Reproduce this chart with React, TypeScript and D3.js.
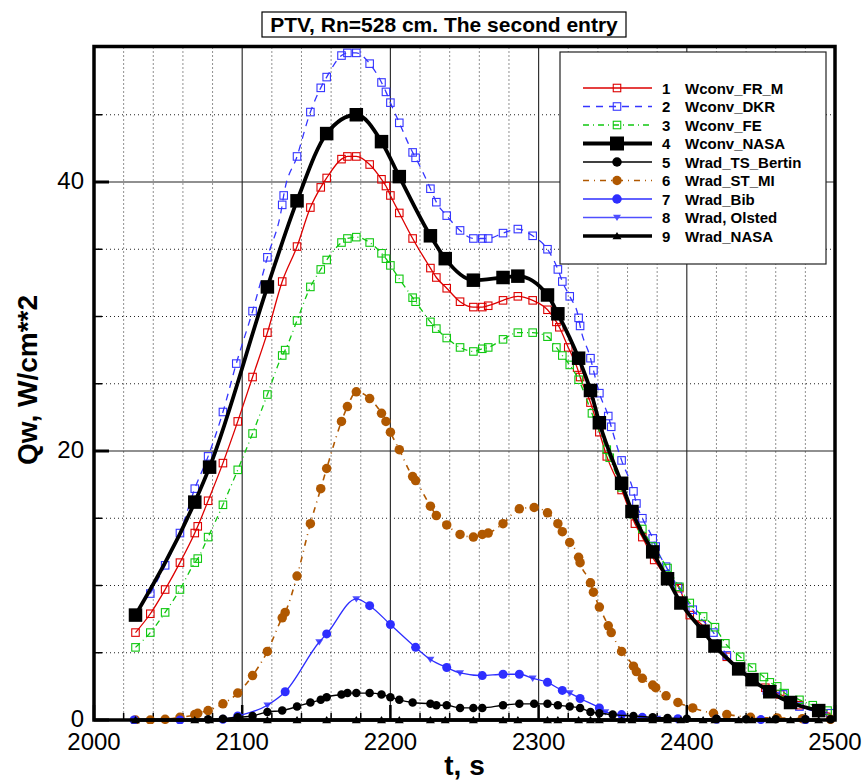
import React from "react";
import * as d3 from "d3";

type Pt = [number, number];

const W = 862;
const H = 780;

const titleText = "PTV, Rn=528 cm. The second entry";
const xLabel = "t, s";
const yLabel = "Qw, W/cm**2";
const xTicks = [2000, 2100, 2200, 2300, 2400, 2500];
const yTicks = [0, 20, 40];

const wconvFRM: Pt[] = [
  [2028, 6.5], [2038, 7.9], [2048, 9.7], [2058, 11.7], [2068, 13.9], [2070, 14.4], [2077, 16.3],
  [2087, 19.1], [2097, 22.2], [2107, 25.5], [2117, 28.8], [2127, 32.6], [2137, 35.2], [2146, 38.1],
  [2153, 39.6], [2157, 40.3], [2167, 41.7], [2171, 41.9], [2177, 41.9], [2186, 41.3], [2194, 40.2],
  [2197, 39.7], [2200, 39.0], [2206, 37.7], [2215, 35.8], [2227, 33.6], [2231, 32.9], [2238, 32.1],
  [2247, 31.1], [2256, 30.7], [2262, 30.7], [2266, 30.8], [2276, 31.2], [2286, 31.5], [2296, 31.2],
  [2306, 30.5], [2312, 29.6], [2314, 29.2], [2320, 27.7], [2326, 26.2], [2328, 25.5], [2335, 23.6],
  [2341, 21.4], [2346, 19.6], [2356, 17.1], [2365, 14.6], [2370, 13.6], [2378, 11.9], [2387, 10.6],
  [2395, 9.8], [2402, 7.8], [2410, 7.1], [2418, 5.6], [2427, 4.7], [2436, 3.7], [2444, 3.0],
  [2453, 2.4], [2463, 1.9], [2476, 1.1], [2488, 0.7], [2497, 0.5],
];

const wconvDKR: Pt[] = [
  [2038, 9.4], [2048, 11.5], [2058, 13.9], [2068, 17.2], [2077, 19.6], [2087, 22.9], [2096, 26.5],
  [2107, 30.4], [2117, 34.4], [2127, 38.3], [2128, 39.0], [2137, 41.9], [2146, 45.2], [2153, 47.0],
  [2157, 47.8], [2167, 49.4], [2171, 49.6], [2177, 49.6], [2186, 48.8], [2194, 47.4], [2197, 46.7],
  [2200, 45.9], [2206, 44.4], [2215, 42.2], [2217, 41.8], [2227, 39.5], [2231, 38.5], [2238, 37.5],
  [2247, 36.4], [2256, 35.8], [2262, 35.8], [2266, 35.8], [2276, 36.2], [2286, 36.5], [2296, 36.0],
  [2306, 35.0], [2313, 33.5], [2316, 32.6], [2321, 31.5], [2327, 29.9], [2328, 29.3], [2335, 26.9],
  [2337, 26.0], [2341, 24.3], [2347, 22.6], [2349, 21.8], [2356, 19.3], [2364, 17.0], [2366, 16.1],
  [2370, 15.0], [2377, 13.5], [2379, 12.9], [2386, 11.4], [2394, 9.9], [2404, 8.2], [2418, 6.5],
  [2427, 4.8], [2444, 3.1], [2454, 2.2], [2465, 1.9], [2476, 1.0], [2497, 0.5],
];

const wconvFE: Pt[] = [
  [2028, 5.4], [2038, 6.5], [2048, 8.0], [2058, 9.7], [2068, 11.7], [2070, 12.0], [2077, 13.6],
  [2087, 16.0], [2097, 18.6], [2107, 21.3], [2117, 24.2], [2127, 27.1], [2129, 27.5], [2137, 29.7],
  [2146, 32.2], [2153, 33.5], [2157, 34.2], [2167, 35.5], [2171, 35.8], [2177, 35.9], [2186, 35.5],
  [2194, 34.7], [2197, 34.3], [2200, 33.8], [2206, 32.8], [2215, 31.4], [2217, 31.1], [2227, 29.6],
  [2231, 29.1], [2238, 28.4], [2247, 27.7], [2256, 27.4], [2262, 27.6], [2266, 27.7], [2276, 28.3],
  [2286, 28.8], [2296, 28.8], [2306, 28.5], [2312, 27.7], [2316, 27.1], [2321, 26.4], [2327, 25.3],
  [2336, 22.8], [2346, 20.1], [2348, 19.5], [2356, 17.3], [2364, 15.3], [2370, 14.2], [2377, 12.9],
  [2387, 11.3], [2395, 9.9], [2402, 8.7], [2411, 7.7], [2419, 6.9], [2426, 5.7], [2436, 4.7],
  [2444, 3.9], [2452, 3.2], [2456, 2.8], [2461, 2.5], [2466, 2.0], [2476, 1.5], [2485, 1.1],
  [2495, 0.7],
];

const wconvNASA: Pt[] = [
  [2028, 7.8], [2068, 16.2], [2078, 18.8], [2117, 32.2], [2137, 38.6], [2157, 43.6], [2177, 45.0],
  [2194, 43.0], [2206, 40.4], [2227, 36.0], [2237, 34.3], [2256, 32.7], [2276, 32.9], [2286, 33.0],
  [2306, 31.6], [2313, 30.2], [2327, 26.9], [2335, 24.5], [2341, 22.1], [2356, 17.6], [2363, 15.5],
  [2377, 12.5], [2387, 10.5], [2396, 8.7], [2411, 6.6], [2419, 5.5], [2435, 3.8], [2444, 3.0],
  [2456, 2.1], [2470, 1.3], [2489, 0.7],
];

const wradTSBertin: Pt[] = [
  [2077, 0.05], [2087, 0.1], [2097, 0.2], [2107, 0.3], [2117, 0.6], [2127, 0.7], [2137, 1.0],
  [2146, 1.3], [2153, 1.5], [2157, 1.7], [2167, 1.9], [2171, 2.0], [2177, 2.0], [2186, 2.0],
  [2194, 1.9], [2200, 1.7], [2206, 1.5], [2215, 1.3], [2227, 1.2], [2231, 1.1], [2238, 1.1],
  [2247, 0.9], [2256, 0.9], [2262, 0.9], [2276, 1.1], [2287, 1.2], [2297, 1.2], [2306, 1.2],
  [2313, 1.1], [2321, 1.0], [2328, 0.9], [2335, 0.6], [2341, 0.5], [2350, 0.4], [2364, 0.3],
  [2377, 0.2], [2387, 0.15], [2400, 0.1], [2420, 0.1], [2440, 0.05], [2460, 0.05], [2480, 0.05],
  [2497, 0.05],
];

const wradSTMI: Pt[] = [
  [2028, 0], [2038, 0], [2048, 0.05], [2058, 0.2], [2068, 0.4], [2070, 0.5], [2077, 0.7],
  [2087, 1.2], [2097, 2.0], [2107, 3.3], [2117, 5.1], [2127, 7.6], [2129, 8.0], [2137, 10.7],
  [2146, 14.6], [2153, 17.2], [2157, 18.7], [2167, 22.2], [2171, 23.3], [2177, 24.4], [2186, 23.9],
  [2194, 22.8], [2197, 22.2], [2200, 21.4], [2206, 20.1], [2215, 18.1], [2217, 17.8], [2227, 15.9],
  [2231, 15.2], [2238, 14.5], [2247, 13.8], [2256, 13.6], [2262, 13.8], [2266, 13.9], [2276, 14.6],
  [2287, 15.7], [2297, 15.8], [2306, 15.4], [2313, 14.6], [2316, 14.0], [2321, 13.2], [2327, 12.1],
  [2328, 11.7], [2335, 10.2], [2337, 9.5], [2341, 8.4], [2347, 7.0], [2349, 6.5], [2356, 5.1],
  [2364, 4.0], [2366, 3.6], [2370, 3.1], [2377, 2.6], [2379, 2.4], [2386, 1.8], [2394, 1.3],
  [2404, 0.9], [2418, 0.5], [2427, 0.4], [2443, 0.2], [2461, 0.15], [2478, 0.1], [2497, 0.05],
];

const wradBib: Pt[] = [
  [2027, 0], [2058, 0], [2087, 0.05], [2097, 0.3], [2129, 2.1], [2157, 6.4], [2186, 8.5],
  [2200, 7.1], [2217, 5.4], [2238, 3.9], [2262, 3.3], [2276, 3.4], [2287, 3.4], [2306, 2.8],
  [2316, 2.2], [2328, 1.6], [2341, 0.9], [2356, 0.4], [2370, 0.2], [2394, 0.1], [2420, 0.05],
  [2450, 0.03], [2480, 0.02],
];

const wradOlsted: Pt[] = [
  [2117, 1.1], [2152, 5.8], [2177, 9.0], [2227, 4.5], [2247, 3.5], [2296, 3.1],
  [2321, 2.0], [2345, 0.6], [2380, 0.1],
];

const wradNASA: Pt[] = [
  [2028, 0], [2068, 0], [2078, 0], [2117, 0], [2137, 0], [2157, 0], [2177, 0], [2194, 0],
  [2206, 0], [2227, 0], [2237, 0], [2256, 0], [2276, 0], [2286, 0], [2306, 0], [2313, 0],
  [2327, 0], [2335, 0], [2341, 0], [2356, 0], [2363, 0], [2377, 0], [2387, 0], [2396, 0],
  [2411, 0], [2419, 0], [2435, 0], [2444, 0], [2456, 0], [2470, 0], [2489, 0],
];

type Marker = "osquare" | "fsquare" | "circle" | "tridown" | "triup";
interface Series {
  id: number;
  name: string;
  data: Pt[];
  color: string;
  width: number;
  dash?: string;
  marker: Marker;
  size: number;
  lineData?: Pt[] | null;
}

// Bib and Olsted share one blue curve through both sets of points
const blueCurve: Pt[] = [...wradBib, ...wradOlsted].sort((a, b) => a[0] - b[0]);

const series: Series[] = [
  { id: 1, name: "Wconv_FR_M", data: wconvFRM, color: "#dd0000", width: 1.3, marker: "osquare", size: 7.5 },
  { id: 2, name: "Wconv_DKR", data: wconvDKR, color: "#3535ff", width: 1.3, dash: "7,6", marker: "osquare", size: 7.5 },
  { id: 3, name: "Wconv_FE", data: wconvFE, color: "#10c810", width: 1.3, dash: "6,4,1,4", marker: "osquare", size: 7.5 },
  { id: 4, name: "Wconv_NASA", data: wconvNASA, color: "#000000", width: 3.8, marker: "fsquare", size: 13.5 },
  { id: 5, name: "Wrad_TS_Bertin", data: wradTSBertin, color: "#000000", width: 1.4, marker: "circle", size: 8.5 },
  { id: 6, name: "Wrad_ST_MI", data: wradSTMI, color: "#b05800", width: 1.6, dash: "6,5,1,5", marker: "circle", size: 9.5 },
  { id: 7, name: "Wrad_Bib", data: wradBib, color: "#2e2eff", width: 1.3, marker: "circle", size: 9, lineData: blueCurve },
  { id: 8, name: "Wrad, Olsted", data: wradOlsted, color: "#4f4fff", width: 1.3, marker: "tridown", size: 8, lineData: null },
  { id: 9, name: "Wrad_NASA", data: wradNASA, color: "#000000", width: 3.5, marker: "triup", size: 9 },
];

const drawOrder = [1, 2, 3, 6, 8, 7, 5, 9, 4];

const X0 = 94, X1 = 835, Y0 = 720, Y1 = 47.5;

function MarkerShape({ m, x, y, size, color }: { m: Marker; x: number; y: number; size: number; color: string }) {
  const h = size / 2;
  if (m === "osquare")
    return <rect x={x - h} y={y - h} width={size} height={size} fill="none" stroke={color} strokeWidth={1.1} />;
  if (m === "fsquare") return <rect x={x - h} y={y - h} width={size} height={size} fill={color} />;
  if (m === "circle") return <circle cx={x} cy={y} r={h} fill={color} />;
  if (m === "tridown")
    return <path d={`M${x - h},${y - h * 0.7}L${x + h},${y - h * 0.7}L${x},${y + h * 0.9}Z`} fill={color} />;
  return <path d={`M${x - h},${y + h * 0.7}L${x + h},${y + h * 0.7}L${x},${y - h * 0.9}Z`} fill={color} />;
}

export default function App() {
  const x = d3.scaleLinear().domain([2000, 2500]).range([X0, X1]);
  const y = d3.scaleLinear().domain([0, 50]).range([Y0, Y1]);
  const line = d3
    .line<Pt>()
    .x((d) => x(d[0]))
    .y((d) => y(d[1]))
    .curve(d3.curveMonotoneX);

  const minorX = d3.range(2020, 2500, 20).filter((v) => v % 100 !== 0);
  const minorY = d3.range(5, 50, 5).filter((v) => v % 20 !== 0);
  const majorXGrid = [2100, 2200, 2300, 2400];
  const majorYGrid = [20, 40];

  const lgX = 560, lgY = 52, lgW = 266, lgH = 212;

  return (
    <svg
      width={W}
      height={H}
      style={{ position: "absolute", left: 0, top: 0, background: "#fff" }}
      fontFamily="'Liberation Sans', Arial, sans-serif"
    >
      <defs>
        <clipPath id="plotclip">
          <rect x={X0} y={Y1 - 2} width={X1 - X0} height={Y0 - Y1 + 6} />
        </clipPath>
      </defs>
      <rect x={0} y={0} width={W} height={H} fill="#fff" />

      {/* grid */}
      {minorX.map((v) => (
        <line key={"gx" + v} x1={x(v)} x2={x(v)} y1={Y1} y2={Y0} stroke="#222" strokeWidth={1} strokeDasharray="1,3" />
      ))}
      {minorY.map((v) => (
        <line key={"gy" + v} x1={X0} x2={X1} y1={y(v)} y2={y(v)} stroke="#222" strokeWidth={1} strokeDasharray="1,3" />
      ))}
      {majorXGrid.map((v) => (
        <line key={"GX" + v} x1={x(v)} x2={x(v)} y1={Y1} y2={Y0} stroke="#333" strokeWidth={1.2} />
      ))}
      {majorYGrid.map((v) => (
        <line key={"GY" + v} x1={X0} x2={X1} y1={y(v)} y2={y(v)} stroke="#222" strokeWidth={1.2} />
      ))}

      {/* ticks */}
      {minorX.map((v) => (
        <line key={"tx" + v} x1={x(v)} x2={x(v)} y1={Y0} y2={Y0 - 7} stroke="#000" strokeWidth={1.5} />
      ))}
      {xTicks.map((v) => (
        <line key={"TX" + v} x1={x(v)} x2={x(v)} y1={Y0} y2={Y0 - 15} stroke="#000" strokeWidth={2.5} />
      ))}
      {minorY.map((v) => (
        <line key={"ty" + v} x1={X0} x2={X0 + 8} y1={y(v)} y2={y(v)} stroke="#000" strokeWidth={1.5} />
      ))}
      {yTicks.map((v) => (
        <line key={"TY" + v} x1={X0} x2={X0 + 15} y1={y(v)} y2={y(v)} stroke="#000" strokeWidth={3} />
      ))}

      {/* series */}
      <g clipPath="url(#plotclip)">
        {drawOrder.map((id) => {
          const s = series.find((q) => q.id === id)!;
          const ld = s.lineData === undefined ? s.data : s.lineData;
          return (
            <g key={"s" + id}>
              {ld && (
                <path d={line(ld) || ""} fill="none" stroke={s.color} strokeWidth={s.width} strokeDasharray={s.dash} />
              )}
              {s.data.map((d, i) => (
                <MarkerShape key={i} m={s.marker} x={x(d[0])} y={y(d[1])} size={s.size} color={s.color} />
              ))}
            </g>
          );
        })}
      </g>

      {/* frame */}
      <rect x={X0} y={Y1 - 1} width={X1 - X0} height={Y0 - Y1 + 1} fill="none" stroke="#000" strokeWidth={3.5} />

      {/* legend */}
      <rect x={lgX} y={lgY} width={lgW} height={lgH} fill="#fff" stroke="#222" strokeWidth={1.2} />
      {series.map((s, i) => {
        const ry = 88 + i * 18.5;
        return (
          <g key={"lg" + s.id}>
            <line x1={583} x2={652} y1={ry} y2={ry} stroke={s.color} strokeWidth={s.width} strokeDasharray={s.dash} />
            <MarkerShape m={s.marker} x={617} y={ry} size={s.marker === "fsquare" ? 14 : s.marker === "circle" ? 9.5 : s.size} color={s.color} />
            <text x={662} y={ry + 5.5} fontSize={15} fontWeight="bold">
              {s.id}
            </text>
            <text x={685} y={ry + 5.5} fontSize={15} fontWeight="bold">
              {s.name}
            </text>
          </g>
        );
      })}

      {/* tick labels */}
      {xTicks.map((v) => (
        <text key={"xl" + v} x={x(v)} y={750} fontSize={24} textAnchor="middle">
          {v}
        </text>
      ))}
      {yTicks.map((v) => (
        <text key={"yl" + v} x={84} y={y(v) + 7} fontSize={24} textAnchor="end">
          {v}
        </text>
      ))}

      {/* axis titles */}
      <text x={(X0 + X1) / 2} y={775} fontSize={28} fontWeight="bold" textAnchor="middle">
        {xLabel}
      </text>
      <text transform="translate(37,380) rotate(-90)" fontSize={28} fontWeight="bold" textAnchor="middle">
        {yLabel}
      </text>

      {/* title */}
      <rect x={262} y={12} width={364} height={25} fill="#fff" stroke="#000" strokeWidth={1.2} />
      <text x={444} y={32} fontSize={21} fontWeight="bold" textAnchor="middle">
        {titleText}
      </text>
    </svg>
  );
}
